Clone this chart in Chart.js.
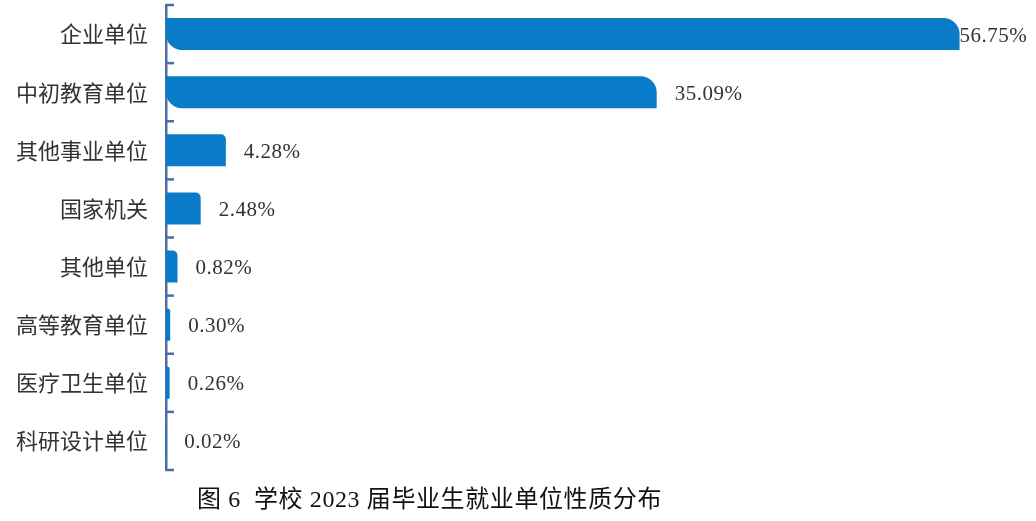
<!DOCTYPE html>
<html>
<head>
<meta charset="utf-8">
<script src="https://cdn.jsdelivr.net/npm/chart.js@4/dist/chart.umd.min.js"></script>
<style>
  html, body { margin: 0; padding: 0; background: #fff; }
  #wrap { position: relative; width: 1036px; height: 521px; }
  #caption {
    position: absolute; left: 197px; top: 479px;
    font-family: "Liberation Serif", "Noto Sans CJK SC", serif;
    font-size: 24px; letter-spacing: 0.6px; color: #111; white-space: pre;
  }
</style>
</head>
<body>
<div id="wrap">
  <canvas id="unitChart" width="1036" height="521"></canvas>
  <div id="caption">图 6  学校 2023 届毕业生就业单位性质分布</div>
</div>
<script>
const categories = ["企业单位", "中初教育单位", "其他事业单位", "国家机关", "其他单位", "高等教育单位", "医疗卫生单位", "科研设计单位"]
const shares = [56.75, 35.09, 4.28, 2.48, 0.82, 0.30, 0.26, 0.02]
const shareLabels = ["56.75%", "35.09%", "4.28%", "2.48%", "0.82%", "0.30%", "0.26%", "0.02%"]

const axisColor = "#4a6fa5"

// value text to the right of each bar
const valueLabels = {
    id: "valueLabels",
    afterDatasetsDraw(chart) {
        const ctx = chart.ctx
        const meta = chart.getDatasetMeta(0)
        ctx.save()
        ctx.font = '21px "Liberation Serif", serif'
        ctx.letterSpacing = "0.5px"
        ctx.fillStyle = "#333"
        ctx.textBaseline = "middle"
        meta.data.forEach((bar, i) => {
            const gap = i === 0 ? 0 : 18
            ctx.fillText(shareLabels[i], bar.x + gap, bar.y + 2)
        })
        ctx.restore()
    }
}

// short tick marks on the right side of the category axis
const axisTicks = {
    id: "axisTicks",
    afterDraw(chart) {
        const ctx = chart.ctx
        const y = chart.scales.y
        const x0 = chart.chartArea.left
        ctx.save()
        ctx.strokeStyle = axisColor
        ctx.lineWidth = 2.5
        for (let i = 0; i <= categories.length; i++) {
            const py = y.getPixelForValue(i - 0.5)
            ctx.beginPath()
            ctx.moveTo(x0, py)
            ctx.lineTo(x0 + 8, py)
            ctx.stroke()
        }
        ctx.restore()
    }
}

new Chart(
    document.getElementById("unitChart"),
    {
        type: "bar",
        data: {
            labels: categories,
            datasets: [{
                data: shares,
                backgroundColor: "#0a7bc8",
                borderSkipped: false,
                borderRadius: (c) => c.raw > 10
                    ? { topLeft: 0, topRight: 16, bottomLeft: 16, bottomRight: 0 }
                    : { topLeft: 0, topRight: 5, bottomLeft: 0, bottomRight: 0 },
                barPercentage: 0.9,
                categoryPercentage: 0.61
            }]
        },
        options: {
            indexAxis: "y",
            responsive: false,
            animation: false,
            layout: { padding: { top: 5, bottom: 51, right: 31, left: 0 } },
            plugins: {
                legend: { display: false },
                tooltip: { enabled: false }
            },
            scales: {
                x: {
                    display: false,
                    min: 0,
                    max: 60
                },
                y: {
                    offset: true,
                    afterFit(scale) {
                        scale.width = 166
                        scale.paddingTop = 0
                        scale.paddingBottom = 0
                    },
                    grid: { display: false, drawTicks: false },
                    border: { display: true, color: axisColor, width: 2.5 },
                    ticks: {
                        padding: 18,
                        color: "#333",
                        font: { family: '"Noto Sans CJK SC", sans-serif', size: 22 }
                    }
                }
            }
        },
        plugins: [valueLabels, axisTicks]
    })
</script>
</body>
</html>
